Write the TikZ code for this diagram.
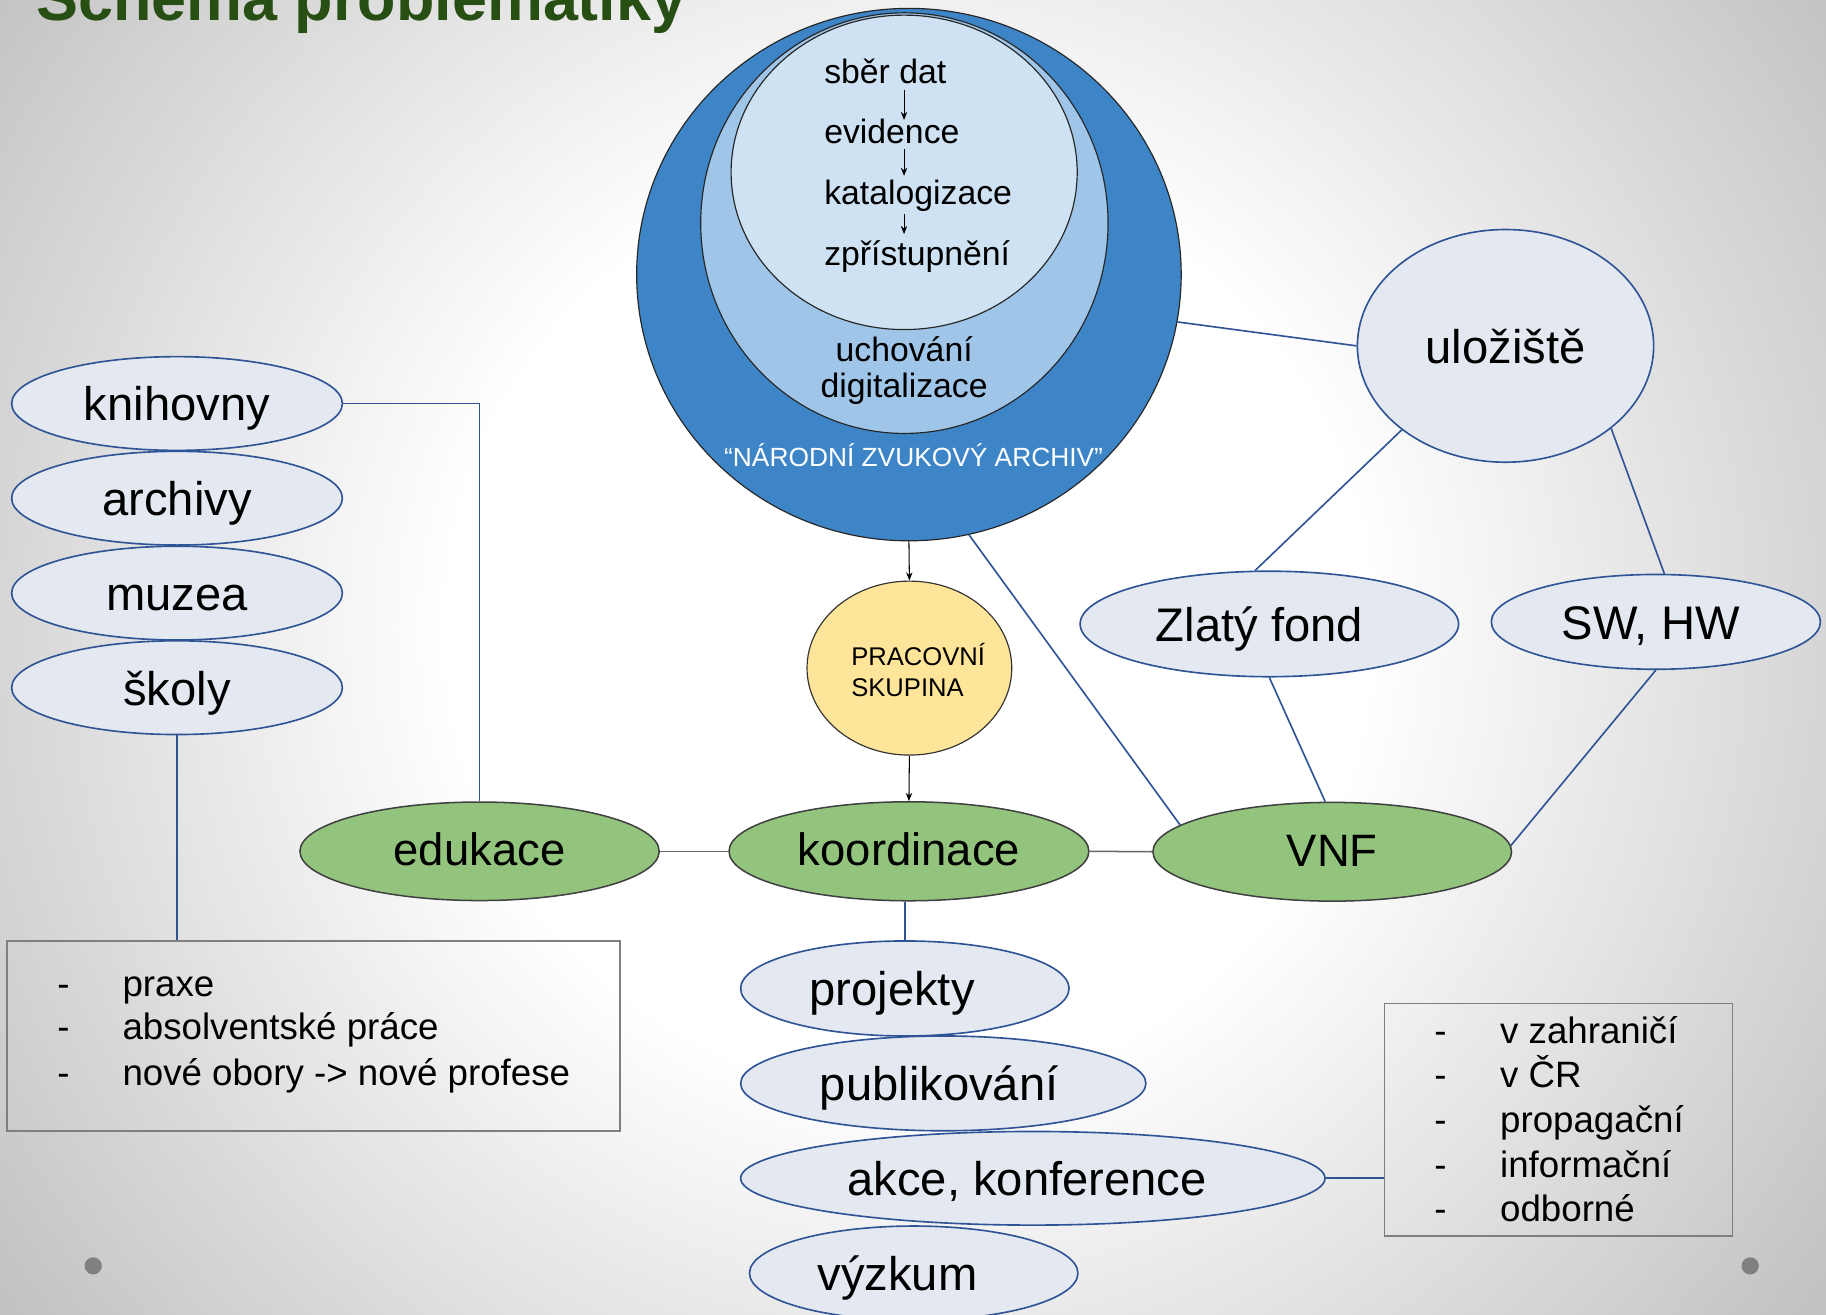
\documentclass[tikz,border=0pt]{standalone}
\usepackage{fontspec}
\setmainfont{Liberation Sans}
\usetikzlibrary{shapes.geometric,arrows.meta}
\definecolor{bggray}{HTML}{B4B4B4}
\definecolor{titlegreen}{HTML}{274E13}
\definecolor{efill}{HTML}{E3E8F1}
\definecolor{eblue}{HTML}{2F5496}
\definecolor{gfill}{HTML}{93C47D}
\definecolor{nzablue}{HTML}{3D85C6}
\definecolor{midblue}{HTML}{9FC5E8}
\definecolor{inblue}{HTML}{CFE2F3}
\definecolor{yfill}{HTML}{FFE599}
\definecolor{boxgray}{HTML}{7F7F7F}
\definecolor{dotgray}{HTML}{808080}
\pgfdeclareradialshading{bgshade}{\pgfpoint{0bp}{0bp}}{color(0bp)=(white); color(9bp)=(white); color(25bp)=(bggray); color(50bp)=(bggray)}
\newcommand\myfs[1]{\fontsize{#1}{#1}\selectfont}
\tikzset{
  lite/.style={ellipse, draw=eblue, fill=efill, line width=1.4pt, inner sep=0pt,
    font=\myfs{40.5}, text height=37.3pt, text depth=7.3pt},
  grn/.style={ellipse, draw=black!75, fill=gfill, line width=1.3pt, inner sep=0pt,
    font=\myfs{39}, text height=33pt, text depth=7.8pt},
  ring/.style={ellipse, draw=black!85, line width=1pt, inner sep=0pt},
  conn/.style={draw=eblue, line width=1.4pt},
  gconn/.style={draw=black!60, line width=1.3pt},
  arr/.style={-{Stealth[length=7pt,width=5.5pt]}, line width=0.9pt, draw=black},
  txt/.style={inner sep=0pt, anchor=base west, font=\myfs{#1}},
  listbox/.style={draw=boxgray, line width=1.3pt, inner sep=0pt},
  dot/.style={circle, fill=dotgray, inner sep=0pt, minimum size=14.8pt}
}
\begin{document}
\begin{tikzpicture}[x=1pt,y=-1pt]
\useasboundingbox (0,0) rectangle (1568,1129);
\begin{scope}
  \clip (0,0) rectangle (1568,1129);
  \shade[shading=bgshade] (780,540) circle [radius=1100];
\end{scope}

% title
\node[inner sep=0pt, anchor=base west, font=\myfs{54}\bfseries, text=titlegreen] (title) at (31,18) {Schéma problematiky};

% nested circles
\node[ring, fill=nzablue, minimum width=467.6pt, minimum height=457.2pt] (nza) at (780.5,235.8) {};
\node[ring, fill=midblue, minimum width=349.8pt, minimum height=361.2pt] (mid) at (776.6,191.6) {};
\node[ring, fill=inblue, minimum width=297.2pt, minimum height=270pt] (inner) at (776.4,148) {};

\node[txt=29] (s1) at (707.6,71.5) {sběr dat};
\node[txt=29] (s2) at (707.6,123) {evidence};
\node[txt=29] (s3) at (707.6,176) {katalogizace};
\node[txt=29] (s4) at (707.6,227.6) {zpřístupnění};
\coordinate (a1) at (776.3,77);
\coordinate (b1) at (776.3,103);
\coordinate (a2) at (776.3,128);
\coordinate (b2) at (776.3,151);
\coordinate (a3) at (776.3,184);
\coordinate (b3) at (776.3,201);
\draw[arr] (a1) -- (b1);
\draw[arr] (a2) -- (b2);
\draw[arr] (a3) -- (b3);

\node[inner sep=0pt, anchor=base, font=\myfs{29}] (u1) at (776.4,310) {uchování};
\node[inner sep=0pt, anchor=base, font=\myfs{29}] (u2) at (776.4,341.5) {digitalizace};
\node[inner sep=0pt, anchor=base, font=\myfs{22.6}, text=white] (nzal) at (784.5,401) {“NÁRODNÍ ZVUKOVÝ ARCHIV”};

% working group
\node[ellipse, draw=black!80, fill=yfill, line width=1pt, inner sep=0pt, minimum width=175.8pt, minimum height=149.4pt] (prac) at (780.9,573.7) {};
\node[txt=22] (p1) at (730.8,571.6) {PRACOVNÍ};
\node[txt=22] (p2) at (730.8,598.3) {SKUPINA};

% green row
\node[grn, minimum width=308.5pt, minimum height=84.6pt] (edu) at (411.8,731) {edukace};
\node[grn, minimum width=309pt, minimum height=85pt] (koord) at (780.5,731) {koordinace};
\node[grn, minimum width=308pt, minimum height=84.8pt] (vnf) at (1144,731.4) {VNF};

\draw[arr] (nza.south) -- (prac.north);
\draw[arr] (prac.south) -- (koord.north);
\draw[gconn] (edu.east) -- (koord.west);
\draw[gconn] (koord.east) -- (vnf.west);

% left column
\node[lite, minimum width=284pt, minimum height=80.5pt] (kni) at (152,346.5) {knihovny};
\node[lite, minimum width=284pt, minimum height=80.5pt] (arch) at (152,427.8) {archivy};
\node[lite, minimum width=284pt, minimum height=80.5pt] (muz) at (152,509.3) {muzea};
\node[lite, minimum width=284pt, minimum height=80.5pt] (sko) at (152,590.5) {školy};

\node[listbox, minimum width=526.6pt, minimum height=163pt] (box1) at (269.3,889.5) {};
\node[txt=31.5] (d11) at (49,856) {-};
\node[txt=31.5] (d12) at (49,893) {-};
\node[txt=31.5] (d13) at (49,932) {-};
\node[txt=31.5] (l11) at (105,856) {praxe};
\node[txt=31.5] (l12) at (105,893) {absolventské práce};
\node[txt=31.5] (l13) at (105,932) {nové obory -> nové profese};

\draw[conn] (kni.east) -| (edu.north);
\draw[conn] (sko.south) -- (sko.south |- box1.north);

% bottom column
\node[lite, minimum width=282pt, minimum height=81.6pt] (proj) at (777,848.8) {\hspace*{-22pt}projekty};
\node[lite, minimum width=348pt, minimum height=81.4pt] (publ) at (810,930.3) {\hspace*{-7pt}publikování};
\node[lite, minimum width=501.8pt, minimum height=80.4pt] (akce) at (886.9,1011.8) {\hspace*{-10pt}akce, konference};
\node[lite, minimum width=282pt, minimum height=81pt] (vyz) at (784.6,1093.3) {\hspace*{-28pt}výzkum};

\draw[conn] (proj.north) -- (proj.north |- koord.south);

\node[listbox, minimum width=298.7pt, minimum height=200pt] (box2) at (1338.35,961.5) {};
\node[txt=31.5] (d21) at (1231.5,895.7) {-};
\node[txt=31.5] (d22) at (1231.5,934) {-};
\node[txt=31.5] (d23) at (1231.5,972.7) {-};
\node[txt=31.5] (d24) at (1231.5,1011.3) {-};
\node[txt=31.5] (d25) at (1231.5,1048.5) {-};
\node[txt=31.5] (l21) at (1288,895.7) {v zahraničí};
\node[txt=31.5] (l22) at (1288,934) {v ČR};
\node[txt=31.5] (l23) at (1288,972.7) {propagační};
\node[txt=31.5] (l24) at (1288,1011.3) {informační};
\node[txt=31.5] (l25) at (1288,1048.5) {odborné};

\draw[conn] (akce.east) -- (box2.west |- akce.east);

% right side
\node[lite, minimum width=254.4pt, minimum height=199.8pt] (ulo) at (1292.8,297) {uložiště};
\node[lite, minimum width=325pt, minimum height=90.6pt] (zlaty) at (1090,535.8) {\hspace*{-17pt}Zlatý fond};
\node[lite, minimum width=282.6pt, minimum height=81.4pt] (sw) at (1421.9,534) {\hspace*{-9pt}SW, HW};

\draw[conn] (nza.-10.6) -- (ulo.west);
\draw[conn] (ulo.-141.7) -- (zlaty.105.3);
\draw[conn] (ulo.-38.5) -- (sw.80);
\draw[conn] (nza.-77.9) -- (vnf.170.5);
\draw[conn] (zlaty.south) -- (vnf.98);
\draw[conn] (sw.south) -- (vnf.2.4);

% slide dots
\node[dot] (dot1) at (80,1087) {};
\node[dot] (dot2) at (1502.9,1087) {};
\end{tikzpicture}
\end{document}
